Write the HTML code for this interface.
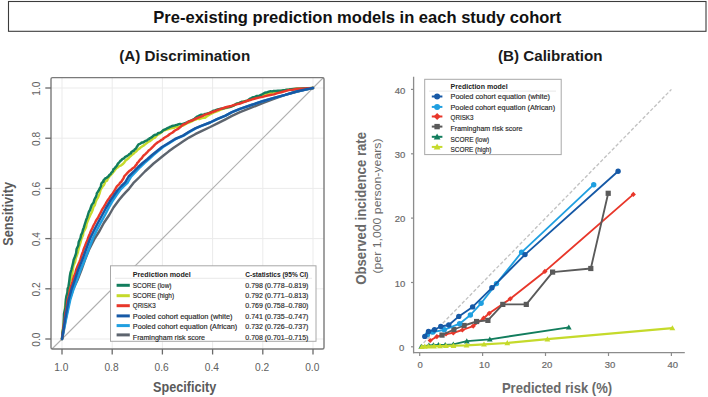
<!DOCTYPE html>
<html><head><meta charset="utf-8"><title>Pre-existing prediction models</title>
<style>html,body{margin:0;padding:0;background:#fff;width:708px;height:397px;overflow:hidden}svg{display:block}text{font-family:"Liberation Sans",sans-serif}.b{stroke:#2a2a2a;stroke-width:0.18px}</style>
</head><body>
<svg width="708" height="397" viewBox="0 0 708 397" font-family='"Liberation Sans", sans-serif'>
<rect width="708" height="397" fill="#fff"/>
<rect x="8.5" y="1.5" width="697.5" height="29.8" fill="none" stroke="#3c3c3c" stroke-width="1.1"/><text x="153.3" y="22.5" font-size="17.3" font-weight="bold" fill="#111" textLength="408" lengthAdjust="spacingAndGlyphs">Pre-existing prediction models in each study cohort</text><text x="119.2" y="61" font-size="14.3" font-weight="bold" fill="#1a1a1a" textLength="131" lengthAdjust="spacingAndGlyphs">(A) Discrimination</text><text x="498" y="61" font-size="14.3" font-weight="bold" fill="#1a1a1a" textLength="104.5" lengthAdjust="spacingAndGlyphs">(B) Calibration</text><text x="153" y="391.9" font-size="14.3" font-weight="bold" fill="#5a5a5a" textLength="63.3" lengthAdjust="spacingAndGlyphs">Specificity</text><text transform="translate(12.5,245.8) rotate(-90)" font-size="14.3" font-weight="bold" fill="#5a5a5a" textLength="63.8" lengthAdjust="spacingAndGlyphs">Sensitivity</text><text x="501.9" y="392.5" font-size="13.9" font-weight="bold" fill="#6a6a6a" textLength="110.2" lengthAdjust="spacingAndGlyphs">Predicted risk (%)</text><text transform="translate(366.1,284.7) rotate(-90)" font-size="14.2" font-weight="bold" fill="#6a6a6a" textLength="152.7" lengthAdjust="spacingAndGlyphs">Observed incidence rate</text><text transform="translate(380.8,273.6) rotate(-90)" font-size="10.4" fill="#6a6a6a" textLength="135.2" lengthAdjust="spacingAndGlyphs">(per 1,000 person-years)</text>
<line x1="62.0" y1="78" x2="62.0" y2="349" stroke="#ebebeb" stroke-width="1"/><line x1="51" y1="88.0" x2="324" y2="88.0" stroke="#ebebeb" stroke-width="1"/><line x1="112.2" y1="78" x2="112.2" y2="349" stroke="#ebebeb" stroke-width="1"/><line x1="51" y1="138.2" x2="324" y2="138.2" stroke="#ebebeb" stroke-width="1"/><line x1="162.4" y1="78" x2="162.4" y2="349" stroke="#ebebeb" stroke-width="1"/><line x1="51" y1="188.4" x2="324" y2="188.4" stroke="#ebebeb" stroke-width="1"/><line x1="212.6" y1="78" x2="212.6" y2="349" stroke="#ebebeb" stroke-width="1"/><line x1="51" y1="238.6" x2="324" y2="238.6" stroke="#ebebeb" stroke-width="1"/><line x1="262.8" y1="78" x2="262.8" y2="349" stroke="#ebebeb" stroke-width="1"/><line x1="51" y1="288.8" x2="324" y2="288.8" stroke="#ebebeb" stroke-width="1"/><line x1="313.0" y1="78" x2="313.0" y2="349" stroke="#ebebeb" stroke-width="1"/><line x1="51" y1="339.0" x2="324" y2="339.0" stroke="#ebebeb" stroke-width="1"/><line x1="52" y1="349" x2="323.5" y2="77.5" stroke="#b0b0b0" stroke-width="1.15"/><polyline points="62.0,339.0 65.5,320.0 69.5,300.0 73.2,289.0 77.5,280.0 81.4,270.0 84.9,260.0 88.9,250.0 95.0,238.0 99.5,231.0 103.8,223.0 109.2,215.0 113.5,207.5 119.0,200.0 122.2,196.1 125.6,192.4 129.0,188.8 133.3,183.2 139.1,177.5 144.9,171.5 149.3,167.5 153.6,163.5 158.6,159.5 163.5,155.5 168.5,151.6 174.0,147.6 180.0,143.6 182.9,141.6 189.0,137.6 195.2,134.2 202.0,130.8 210.2,127.0 218.0,123.1 225.5,119.3 232.0,115.9 240.0,112.2 251.3,107.7 262.6,103.1 273.9,98.9 285.2,94.9 296.5,91.7 307.8,89.0 313.0,88.0" fill="none" stroke="#5d646e" stroke-width="2.45" stroke-linejoin="round" stroke-linecap="round"/><polyline points="62.2,339.0 65.9,320.0 70.2,300.0 73.6,289.0 76.9,280.0 80.5,270.0 83.9,262.0 87.0,254.0 89.9,246.0 93.0,238.0 96.4,231.0 100.6,223.0 105.0,215.0 108.9,207.5 113.2,200.0 116.6,195.0 120.2,190.0 123.9,186.2 127.7,182.5 131.1,176.7 136.6,171.0 140.3,167.0 144.4,163.0 149.1,159.0 153.4,155.0 158.2,151.0 163.1,147.0 169.6,143.0 175.8,139.0 183.6,135.6 189.6,131.9 195.7,128.4 200.9,126.1 210.3,122.5 217.2,119.1 225.6,115.6 232.0,112.2 240.0,108.9 251.3,105.0 262.6,101.2 273.9,97.9 285.2,94.9 296.5,91.5 307.8,89.0 313.0,88.0" fill="none" stroke="#1f9fe0" stroke-width="2.45" stroke-linejoin="round" stroke-linecap="round"/><polyline points="62.0,339.0 62.4,332.7 63.2,326.4 64.0,320.0 64.9,312.9 65.0,307.0 66.3,300.0 66.7,296.1 68.1,292.6 68.3,289.0 69.3,286.0 69.8,282.7 70.3,280.0 70.7,280.0 70.8,279.6 71.0,279.0 71.7,275.6 72.4,273.1 72.7,270.0 73.5,265.5 75.1,262.0 75.8,258.0 77.0,255.0 78.0,251.8 78.8,248.0 79.7,245.0 80.7,241.8 81.7,238.0 83.1,234.9 83.3,232.4 84.7,230.0 86.0,227.3 86.5,224.5 87.3,222.0 88.3,219.6 89.2,217.4 90.3,215.0 91.5,212.7 92.6,210.1 93.4,207.0 94.8,205.2 95.6,202.0 96.5,200.0 98.2,197.1 99.6,193.4 100.5,190.0 102.2,187.1 103.9,184.9 105.1,182.2 105.7,180.8 107.1,180.7 107.6,179.2 108.5,177.8 110.2,175.5 111.6,174.2 112.6,172.9 114.4,170.7 115.2,169.6 116.6,168.0 118.1,167.1 119.2,166.1 121.2,165.4 122.5,164.3 124.2,162.6 125.3,160.8 127.0,159.5 128.2,158.6 129.8,156.8 132.0,154.9 133.8,153.5 134.7,152.5 136.4,151.3 138.0,149.5 139.7,148.4 140.6,147.5 142.0,146.5 144.2,145.1 146.1,143.6 148.1,142.0 149.8,141.2 150.6,140.6 152.0,139.5 153.1,138.3 155.1,137.5 156.0,136.5 157.5,134.8 158.9,134.2 160.5,133.0 161.6,132.1 163.8,130.6 165.2,130.0 167.6,129.3 169.9,128.5 172.0,128.0 173.9,127.9 174.9,126.9 177.0,127.0 179.1,127.0 180.7,126.0 182.9,125.6 185.4,124.2 187.5,123.0 190.0,122.0 191.9,121.3 193.8,120.2 196.0,119.5 197.8,118.7 199.1,119.1 200.5,118.5 201.8,118.0 203.8,117.7 205.0,117.7 207.0,116.2 209.9,114.5 212.0,113.5 214.8,112.0 218.3,110.8 221.0,109.5 224.7,108.2 227.5,107.7 231.0,106.5 234.4,105.3 236.7,103.8 240.0,103.0 243.8,101.4 247.8,100.7 251.3,99.0 254.8,97.4 259.1,96.5 262.6,95.0 266.7,94.0 269.8,93.1 273.9,92.5 277.9,91.5 281.1,90.9 285.0,90.2 288.8,89.7 292.7,89.3 296.5,88.8 302.0,88.5 307.5,88.3 313.0,88.0" fill="none" stroke="#c5da2b" stroke-width="2.45" stroke-linejoin="round" stroke-linecap="round"/><polyline points="62.0,339.0 62.5,332.6 63.7,326.0 63.8,320.0 64.0,313.8 65.5,307.2 65.8,300.0 66.3,296.8 67.4,292.4 67.6,289.0 68.5,286.3 69.0,283.0 69.4,280.0 69.8,276.5 70.4,272.9 71.3,270.0 72.2,266.5 73.1,262.9 73.6,260.0 75.0,256.5 76.1,253.1 76.6,249.0 78.3,245.4 78.7,241.9 80.5,238.0 81.0,235.1 82.3,232.7 82.9,230.0 83.7,227.8 84.7,224.5 85.5,222.0 86.1,220.0 87.1,217.6 87.9,215.0 88.8,212.0 90.0,210.0 91.0,207.0 91.7,205.0 93.6,202.6 94.2,200.0 95.3,197.8 95.9,197.0 96.5,195.0 96.9,193.1 97.9,191.7 99.0,190.0 99.6,188.6 100.6,186.8 101.0,186.0 101.1,184.4 101.7,183.0 102.6,182.2 103.6,181.7 103.3,180.5 104.2,179.6 105.3,178.4 106.6,177.8 108.0,176.7 109.0,175.6 109.6,174.7 110.8,173.9 111.2,172.9 112.5,171.7 113.0,170.8 113.3,169.4 114.3,168.8 115.2,167.6 116.2,166.4 117.0,165.7 117.4,164.5 118.3,163.2 119.3,162.3 120.3,160.9 121.2,160.4 122.3,159.2 123.3,158.7 124.3,158.1 124.9,157.1 126.3,156.4 127.3,155.9 128.9,154.6 129.5,153.9 130.9,153.3 131.3,152.1 132.6,151.3 132.9,151.0 134.1,150.5 134.6,149.5 135.7,148.7 136.4,147.7 137.0,146.7 137.6,145.8 138.5,144.4 140.0,143.8 141.3,142.9 141.6,142.5 143.0,142.5 144.0,141.7 143.9,142.0 145.0,141.2 145.6,140.9 147.2,140.3 148.0,139.4 149.1,139.1 149.6,138.2 150.0,138.3 151.9,137.1 153.5,135.6 155.0,134.8 156.9,134.5 157.9,133.2 160.0,132.6 161.7,131.9 163.1,130.2 165.0,129.5 166.4,128.7 168.6,127.7 170.0,126.9 171.5,126.3 173.2,125.8 175.0,125.4 175.6,125.1 177.5,124.7 178.0,124.5 179.9,123.9 181.5,124.3 182.9,123.8 184.4,123.3 185.6,122.9 187.0,122.3 189.0,121.3 189.7,121.2 191.7,120.3 193.5,119.4 194.5,118.7 196.0,117.5 197.0,116.6 198.2,116.2 199.8,115.4 201.3,114.7 203.5,114.9 205.0,114.0 206.6,113.7 208.5,113.3 210.4,112.4 212.0,111.5 213.2,110.7 215.0,110.5 217.0,109.7 218.7,109.1 221.0,108.6 222.5,108.5 224.0,108.4 226.0,107.5 227.8,107.2 229.6,107.0 231.5,106.3 233.3,105.6 234.5,105.0 236.0,104.0 237.7,103.4 238.9,103.5 240.0,102.5 241.6,101.8 243.1,101.9 245.0,101.3 247.3,100.7 249.6,98.9 251.3,98.1 252.9,97.2 254.8,96.9 257.0,96.0 259.2,95.8 260.5,95.1 262.6,94.1 263.5,93.5 265.1,92.6 266.0,92.5 267.1,92.4 268.8,91.6 270.5,91.3 272.4,91.4 273.7,90.9 276.0,91.0 277.9,90.8 279.6,90.8 281.8,90.5 284.0,90.1 285.3,90.0 287.0,89.7 289.0,89.5 291.1,89.2 293.1,89.0 296.4,88.8 299.7,88.6 303.0,88.4 306.3,88.3 309.7,88.1 313.0,88.0" fill="none" stroke="#127d5d" stroke-width="2.45" stroke-linejoin="round" stroke-linecap="round"/><polyline points="62.0,339.0 62.9,332.4 63.6,326.4 64.6,320.0 65.4,313.6 66.8,306.4 67.6,300.0 68.7,296.3 69.5,292.8 70.2,289.0 71.0,286.1 72.1,283.2 72.9,280.0 73.8,276.8 75.3,273.4 76.0,270.0 77.2,267.1 78.3,264.6 79.4,262.0 80.4,259.4 81.2,256.5 82.0,254.0 83.1,251.4 83.8,248.9 85.0,246.0 86.1,243.1 87.3,240.5 88.1,238.0 88.9,235.8 90.0,233.4 90.9,231.0 92.3,228.3 93.5,225.5 94.9,223.0 96.1,220.5 98.0,217.7 99.3,215.0 100.8,212.4 101.9,209.9 103.5,207.5 105.2,204.7 106.4,202.3 107.9,200.0 109.2,198.2 110.2,196.6 111.5,195.0 112.7,193.5 113.7,191.9 114.9,190.0 115.8,188.2 116.9,186.4 118.3,185.0 119.4,184.1 120.0,182.8 121.1,182.0 122.2,180.3 123.5,178.4 124.3,176.3 126.2,174.2 127.9,172.4 129.7,170.7 131.4,169.6 132.8,168.2 134.6,167.1 135.6,165.5 136.5,164.7 137.1,163.2 138.5,161.8 139.4,160.6 140.5,159.2 141.7,158.2 142.9,156.4 144.0,155.2 145.6,153.9 146.8,152.7 148.1,151.2 149.1,150.2 150.8,148.9 152.0,147.7 153.5,146.2 154.9,144.7 156.6,143.2 157.8,142.2 159.6,141.2 161.0,140.2 162.4,139.5 164.0,138.0 165.2,137.3 167.8,135.8 169.9,134.0 172.6,132.5 174.9,130.5 177.6,129.2 180.1,127.2 181.1,126.5 182.4,125.2 183.3,124.5 185.0,123.8 186.5,123.1 187.7,122.2 190.3,121.0 192.8,120.3 195.0,119.0 197.8,117.9 200.4,116.9 202.8,115.9 205.0,114.7 207.3,113.8 210.0,113.0 212.4,112.0 215.4,111.0 217.9,109.9 220.2,109.2 222.5,108.3 225.0,107.5 227.8,106.7 230.1,106.3 233.0,105.3 235.5,104.6 237.6,104.1 240.0,103.5 243.8,102.1 247.2,100.8 251.3,99.7 255.2,98.5 258.8,97.6 262.6,96.9 266.2,95.9 270.1,95.0 273.9,94.4 277.4,93.1 281.2,92.2 285.2,91.1 288.7,90.1 292.7,89.7 296.5,89.0 299.3,88.8 302.2,88.6 305.0,88.4 307.7,88.3 310.3,88.1 313.0,88.0" fill="none" stroke="#e8372a" stroke-width="2.45" stroke-linejoin="round" stroke-linecap="round"/><polyline points="62.0,339.0 65.0,320.0 68.6,300.0 71.6,289.0 74.8,280.0 78.1,270.0 81.4,262.0 84.4,254.0 87.3,246.0 90.3,238.0 93.7,231.0 97.8,223.0 102.2,215.0 106.2,207.5 110.7,200.0 114.2,195.0 117.7,190.0 121.4,186.0 125.2,182.3 128.6,176.5 134.4,170.9 138.2,167.0 142.6,163.0 147.5,159.0 152.0,155.0 157.0,151.0 162.0,147.0 168.6,143.0 175.0,139.0 182.9,135.6 189.0,131.8 195.2,128.4 200.5,126.1 210.0,122.5 217.0,119.1 225.5,115.6 232.0,112.2 240.0,108.9 251.3,105.0 262.6,101.2 273.9,97.9 285.2,94.9 296.5,91.5 307.8,89.0 313.0,88.0" fill="none" stroke="#1659a6" stroke-width="2.45" stroke-linejoin="round" stroke-linecap="round"/><rect x="51" y="77.6" width="273" height="271.4" rx="1.5" fill="none" stroke="#7a7a7a" stroke-width="1.4"/><line x1="62.0" y1="349" x2="62.0" y2="354.5" stroke="#6a6a6a" stroke-width="1.3"/><line x1="45.3" y1="88.0" x2="51" y2="88.0" stroke="#6a6a6a" stroke-width="1.3"/><text x="61.3" y="370.9" font-size="10.2" fill="#606060" text-anchor="middle">1.0</text><text transform="translate(39.7,88.6) rotate(-90)" x="0" y="0" font-size="10.2" fill="#606060" text-anchor="middle">1.0</text><line x1="112.2" y1="349" x2="112.2" y2="354.5" stroke="#6a6a6a" stroke-width="1.3"/><line x1="45.3" y1="138.2" x2="51" y2="138.2" stroke="#6a6a6a" stroke-width="1.3"/><text x="111.5" y="370.9" font-size="10.2" fill="#606060" text-anchor="middle">0.8</text><text transform="translate(39.7,138.8) rotate(-90)" x="0" y="0" font-size="10.2" fill="#606060" text-anchor="middle">0.8</text><line x1="162.4" y1="349" x2="162.4" y2="354.5" stroke="#6a6a6a" stroke-width="1.3"/><line x1="45.3" y1="188.4" x2="51" y2="188.4" stroke="#6a6a6a" stroke-width="1.3"/><text x="161.7" y="370.9" font-size="10.2" fill="#606060" text-anchor="middle">0.6</text><text transform="translate(39.7,189.0) rotate(-90)" x="0" y="0" font-size="10.2" fill="#606060" text-anchor="middle">0.6</text><line x1="212.6" y1="349" x2="212.6" y2="354.5" stroke="#6a6a6a" stroke-width="1.3"/><line x1="45.3" y1="238.6" x2="51" y2="238.6" stroke="#6a6a6a" stroke-width="1.3"/><text x="211.9" y="370.9" font-size="10.2" fill="#606060" text-anchor="middle">0.4</text><text transform="translate(39.7,239.2) rotate(-90)" x="0" y="0" font-size="10.2" fill="#606060" text-anchor="middle">0.4</text><line x1="262.8" y1="349" x2="262.8" y2="354.5" stroke="#6a6a6a" stroke-width="1.3"/><line x1="45.3" y1="288.8" x2="51" y2="288.8" stroke="#6a6a6a" stroke-width="1.3"/><text x="262.1" y="370.9" font-size="10.2" fill="#606060" text-anchor="middle">0.2</text><text transform="translate(39.7,289.4) rotate(-90)" x="0" y="0" font-size="10.2" fill="#606060" text-anchor="middle">0.2</text><line x1="313.0" y1="349" x2="313.0" y2="354.5" stroke="#6a6a6a" stroke-width="1.3"/><line x1="45.3" y1="339.0" x2="51" y2="339.0" stroke="#6a6a6a" stroke-width="1.3"/><text x="312.3" y="370.9" font-size="10.2" fill="#606060" text-anchor="middle">0.0</text><text transform="translate(39.7,339.6) rotate(-90)" x="0" y="0" font-size="10.2" fill="#606060" text-anchor="middle">0.0</text>
<rect x="110.5" y="265.8" width="205.5" height="75.5" fill="#ffffff" stroke="#a8a8a8" stroke-width="1"/><line x1="115" y1="278.3" x2="312" y2="278.3" stroke="#e2e2e2" stroke-width="0.8"/><text x="132.8" y="276.8" font-size="7.6" font-weight="bold" fill="#222" textLength="58" lengthAdjust="spacingAndGlyphs">Prediction model</text><text x="245.3" y="276.8" font-size="7.6" font-weight="bold" fill="#222" textLength="63" lengthAdjust="spacingAndGlyphs">C-statistics (95% CI)</text><line x1="116.6" y1="285.3" x2="129.8" y2="285.3" stroke="#127d5d" stroke-width="3"/><text x="132.8" y="287.9" font-size="8" fill="#2a2a2a" textLength="38.7" lengthAdjust="spacingAndGlyphs" class="b">SCORE (low)</text><text x="245.3" y="287.9" font-size="8" fill="#2a2a2a" textLength="63.1" lengthAdjust="spacingAndGlyphs" class="b">0.798 (0.778–0.819)</text><line x1="116.6" y1="295.7" x2="129.8" y2="295.7" stroke="#c5da2b" stroke-width="3"/><text x="132.8" y="298.0" font-size="8" fill="#2a2a2a" textLength="41.3" lengthAdjust="spacingAndGlyphs" class="b">SCORE (high)</text><text x="245.3" y="298.0" font-size="8" fill="#2a2a2a" textLength="63.1" lengthAdjust="spacingAndGlyphs" class="b">0.792 (0.771–0.813)</text><line x1="116.6" y1="305.7" x2="129.8" y2="305.7" stroke="#e8372a" stroke-width="3"/><text x="132.8" y="308.0" font-size="8" fill="#2a2a2a" textLength="22.8" lengthAdjust="spacingAndGlyphs" class="b">QRISK3</text><text x="245.3" y="308.0" font-size="8" fill="#2a2a2a" textLength="63.1" lengthAdjust="spacingAndGlyphs" class="b">0.769 (0.758–0.780)</text><line x1="116.6" y1="315.9" x2="129.8" y2="315.9" stroke="#1659a6" stroke-width="3"/><text x="132.8" y="318.5" font-size="8" fill="#2a2a2a" textLength="99.7" lengthAdjust="spacingAndGlyphs" class="b">Pooled cohort equation (white)</text><text x="245.3" y="318.5" font-size="8" fill="#2a2a2a" textLength="63.1" lengthAdjust="spacingAndGlyphs" class="b">0.741 (0.735–0.747)</text><line x1="116.6" y1="325.6" x2="129.8" y2="325.6" stroke="#1f9fe0" stroke-width="3"/><text x="132.8" y="328.6" font-size="8" fill="#2a2a2a" textLength="104.4" lengthAdjust="spacingAndGlyphs" class="b">Pooled cohort equation (African)</text><text x="245.3" y="328.6" font-size="8" fill="#2a2a2a" textLength="63.1" lengthAdjust="spacingAndGlyphs" class="b">0.732 (0.726–0.737)</text><line x1="116.6" y1="334.9" x2="129.8" y2="334.9" stroke="#5d646e" stroke-width="3"/><text x="132.8" y="340.3" font-size="8" fill="#2a2a2a" textLength="72.2" lengthAdjust="spacingAndGlyphs" class="b">Framingham risk score</text><text x="245.3" y="340.3" font-size="8" fill="#2a2a2a" textLength="63.1" lengthAdjust="spacingAndGlyphs" class="b">0.708 (0.701–0.715)</text>
<line x1="419.7" y1="346.8" x2="671.4" y2="89.4" stroke="#c2c2c2" stroke-width="1.35" stroke-dasharray="3.5,2"/><polyline points="421.3,346.6 428.9,345.3 433.4,345.1 438.4,344.9 445.2,345.0 453.3,344.4 466.8,341.2 489.8,339.3 568.8,327.3" fill="none" stroke="#127d5d" stroke-width="1.85" stroke-linejoin="round"/><path d="M421.3,343.7 L424.2,348.8 L418.4,348.8Z" fill="#127d5d"/><path d="M428.9,342.4 L431.8,347.5 L426.0,347.5Z" fill="#127d5d"/><path d="M433.4,342.2 L436.3,347.3 L430.5,347.3Z" fill="#127d5d"/><path d="M438.4,342.0 L441.3,347.1 L435.5,347.1Z" fill="#127d5d"/><path d="M445.2,342.1 L448.1,347.2 L442.3,347.2Z" fill="#127d5d"/><path d="M453.3,341.5 L456.2,346.6 L450.4,346.6Z" fill="#127d5d"/><path d="M466.8,338.3 L469.7,343.4 L463.9,343.4Z" fill="#127d5d"/><path d="M489.8,336.4 L492.7,341.5 L486.9,341.5Z" fill="#127d5d"/><path d="M568.8,324.4 L571.7,329.5 L565.9,329.5Z" fill="#127d5d"/><polyline points="421.8,346.8 424.8,346.5 428.6,346.3 434.0,346.2 440.0,346.0 446.0,345.9 453.5,345.7 466.5,345.4 484.0,344.3 507.3,343.0 547.4,339.2 672.4,328.1" fill="none" stroke="#c5da2b" stroke-width="2.2" stroke-linejoin="round"/><path d="M421.8,343.9 L424.7,349.0 L418.9,349.0Z" fill="#c5da2b"/><path d="M424.8,343.6 L427.7,348.7 L421.9,348.7Z" fill="#c5da2b"/><path d="M428.6,343.4 L431.5,348.5 L425.7,348.5Z" fill="#c5da2b"/><path d="M434.0,343.3 L436.9,348.4 L431.1,348.4Z" fill="#c5da2b"/><path d="M440.0,343.1 L442.9,348.2 L437.1,348.2Z" fill="#c5da2b"/><path d="M446.0,343.0 L448.9,348.1 L443.1,348.1Z" fill="#c5da2b"/><path d="M453.5,342.8 L456.4,347.9 L450.6,347.9Z" fill="#c5da2b"/><path d="M466.5,342.5 L469.4,347.6 L463.6,347.6Z" fill="#c5da2b"/><path d="M484.0,341.4 L486.9,346.5 L481.1,346.5Z" fill="#c5da2b"/><path d="M507.3,340.1 L510.2,345.2 L504.4,345.2Z" fill="#c5da2b"/><path d="M547.4,336.3 L550.3,341.4 L544.5,341.4Z" fill="#c5da2b"/><path d="M672.4,325.2 L675.3,330.3 L669.5,330.3Z" fill="#c5da2b"/><polyline points="430.2,340.5 436.9,336.6 446.0,334.0 453.3,332.9 462.4,330.0 473.2,326.1 483.6,318.2 489.2,313.3 510.3,298.8 544.9,271.4 633.3,194.4" fill="none" stroke="#e8372a" stroke-width="1.85" stroke-linejoin="round"/><path d="M430.2,337.9 L432.8,340.5 L430.2,343.1 L427.6,340.5Z" fill="#e8372a"/><path d="M436.9,334.0 L439.5,336.6 L436.9,339.2 L434.3,336.6Z" fill="#e8372a"/><path d="M446.0,331.4 L448.6,334.0 L446.0,336.6 L443.4,334.0Z" fill="#e8372a"/><path d="M453.3,330.3 L455.9,332.9 L453.3,335.5 L450.7,332.9Z" fill="#e8372a"/><path d="M462.4,327.4 L465.0,330.0 L462.4,332.6 L459.8,330.0Z" fill="#e8372a"/><path d="M473.2,323.5 L475.8,326.1 L473.2,328.7 L470.6,326.1Z" fill="#e8372a"/><path d="M483.6,315.6 L486.2,318.2 L483.6,320.8 L481.0,318.2Z" fill="#e8372a"/><path d="M489.2,310.7 L491.8,313.3 L489.2,315.9 L486.6,313.3Z" fill="#e8372a"/><path d="M510.3,296.2 L512.9,298.8 L510.3,301.4 L507.7,298.8Z" fill="#e8372a"/><path d="M544.9,268.8 L547.5,271.4 L544.9,274.0 L542.3,271.4Z" fill="#e8372a"/><path d="M633.3,191.8 L635.9,194.4 L633.3,197.0 L630.7,194.4Z" fill="#e8372a"/><polyline points="442.0,335.1 453.9,329.5 464.1,325.5 476.6,321.5 487.9,320.4 502.8,304.4 526.3,304.4 552.6,272.1 590.8,268.5 608.2,193.3" fill="none" stroke="#5a5a5a" stroke-width="1.85" stroke-linejoin="round"/><rect x="439.4" y="332.5" width="5.2" height="5.2" fill="#5a5a5a"/><rect x="451.3" y="326.9" width="5.2" height="5.2" fill="#5a5a5a"/><rect x="461.5" y="322.9" width="5.2" height="5.2" fill="#5a5a5a"/><rect x="474.0" y="318.9" width="5.2" height="5.2" fill="#5a5a5a"/><rect x="485.3" y="317.8" width="5.2" height="5.2" fill="#5a5a5a"/><rect x="500.2" y="301.8" width="5.2" height="5.2" fill="#5a5a5a"/><rect x="523.7" y="301.8" width="5.2" height="5.2" fill="#5a5a5a"/><rect x="550.0" y="269.5" width="5.2" height="5.2" fill="#5a5a5a"/><rect x="588.2" y="265.9" width="5.2" height="5.2" fill="#5a5a5a"/><rect x="605.6" y="190.7" width="5.2" height="5.2" fill="#5a5a5a"/><polyline points="427.5,334.5 433.0,332.0 444.3,329.8 459.6,323.7 470.4,315.0 481.1,303.3 496.5,283.6 521.6,252.3 593.7,184.7" fill="none" stroke="#1f9fe0" stroke-width="1.85" stroke-linejoin="round"/><circle cx="427.5" cy="334.5" r="2.7" fill="#1f9fe0"/><circle cx="433.0" cy="332.0" r="2.7" fill="#1f9fe0"/><circle cx="444.3" cy="329.8" r="2.7" fill="#1f9fe0"/><circle cx="459.6" cy="323.7" r="2.7" fill="#1f9fe0"/><circle cx="470.4" cy="315.0" r="2.7" fill="#1f9fe0"/><circle cx="481.1" cy="303.3" r="2.7" fill="#1f9fe0"/><circle cx="496.5" cy="283.6" r="2.7" fill="#1f9fe0"/><circle cx="521.6" cy="252.3" r="2.7" fill="#1f9fe0"/><circle cx="593.7" cy="184.7" r="2.7" fill="#1f9fe0"/><polyline points="424.8,336.4 428.5,331.5 434.5,329.7 440.8,326.5 448.8,325.0 458.8,316.4 472.6,306.9 491.9,287.8 525.0,254.6 618.1,171.3" fill="none" stroke="#1659a6" stroke-width="1.85" stroke-linejoin="round"/><circle cx="424.8" cy="336.4" r="2.7" fill="#1659a6"/><circle cx="428.5" cy="331.5" r="2.7" fill="#1659a6"/><circle cx="434.5" cy="329.7" r="2.7" fill="#1659a6"/><circle cx="440.8" cy="326.5" r="2.7" fill="#1659a6"/><circle cx="448.8" cy="325.0" r="2.7" fill="#1659a6"/><circle cx="458.8" cy="316.4" r="2.7" fill="#1659a6"/><circle cx="472.6" cy="306.9" r="2.7" fill="#1659a6"/><circle cx="491.9" cy="287.8" r="2.7" fill="#1659a6"/><circle cx="525.0" cy="254.6" r="2.7" fill="#1659a6"/><circle cx="618.1" cy="171.3" r="2.7" fill="#1659a6"/><line x1="413.6" y1="76.7" x2="413.6" y2="353.2" stroke="#8c8c8c" stroke-width="1.3"/><line x1="413" y1="352.6" x2="684.8" y2="352.6" stroke="#8c8c8c" stroke-width="1.3"/><line x1="419.7" y1="352.6" x2="419.7" y2="356" stroke="#8c8c8c" stroke-width="1.2"/><line x1="411" y1="346.8" x2="413.6" y2="346.8" stroke="#8c8c8c" stroke-width="1.2"/><text x="420.1" y="367.7" font-size="9.5" fill="#6a6a6a" stroke="#6a6a6a" stroke-width="0.2" text-anchor="middle">0</text><text x="404.3" y="351.1" font-size="9.5" fill="#6a6a6a" stroke="#6a6a6a" stroke-width="0.2" text-anchor="end">0</text><line x1="482.6" y1="352.6" x2="482.6" y2="356" stroke="#8c8c8c" stroke-width="1.2"/><line x1="411" y1="282.5" x2="413.6" y2="282.5" stroke="#8c8c8c" stroke-width="1.2"/><text x="484.4" y="367.7" font-size="9.5" fill="#6a6a6a" stroke="#6a6a6a" stroke-width="0.2" text-anchor="middle">10</text><text x="405.3" y="286.8" font-size="9.5" fill="#6a6a6a" stroke="#6a6a6a" stroke-width="0.2" text-anchor="end">10</text><line x1="545.5" y1="352.6" x2="545.5" y2="356" stroke="#8c8c8c" stroke-width="1.2"/><line x1="411" y1="218.1" x2="413.6" y2="218.1" stroke="#8c8c8c" stroke-width="1.2"/><text x="547.1" y="367.7" font-size="9.5" fill="#6a6a6a" stroke="#6a6a6a" stroke-width="0.2" text-anchor="middle">20</text><text x="405.3" y="222.4" font-size="9.5" fill="#6a6a6a" stroke="#6a6a6a" stroke-width="0.2" text-anchor="end">20</text><line x1="608.5" y1="352.6" x2="608.5" y2="356" stroke="#8c8c8c" stroke-width="1.2"/><line x1="411" y1="153.8" x2="413.6" y2="153.8" stroke="#8c8c8c" stroke-width="1.2"/><text x="610.1" y="367.7" font-size="9.5" fill="#6a6a6a" stroke="#6a6a6a" stroke-width="0.2" text-anchor="middle">30</text><text x="405.3" y="158.1" font-size="9.5" fill="#6a6a6a" stroke="#6a6a6a" stroke-width="0.2" text-anchor="end">30</text><line x1="671.4" y1="352.6" x2="671.4" y2="356" stroke="#8c8c8c" stroke-width="1.2"/><line x1="411" y1="89.4" x2="413.6" y2="89.4" stroke="#8c8c8c" stroke-width="1.2"/><text x="672.7" y="367.7" font-size="9.5" fill="#6a6a6a" stroke="#6a6a6a" stroke-width="0.2" text-anchor="middle">40</text><text x="405.3" y="93.7" font-size="9.5" fill="#6a6a6a" stroke="#6a6a6a" stroke-width="0.2" text-anchor="end">40</text>
<rect x="424.7" y="79.3" width="136.5" height="75.3" fill="#fff" stroke="#a8a8a8" stroke-width="1"/><line x1="429" y1="91.1" x2="556" y2="91.1" stroke="#e2e2e2" stroke-width="0.8"/><text x="450.6" y="88.9" font-size="7.6" font-weight="bold" fill="#222" textLength="57" lengthAdjust="spacingAndGlyphs">Prediction model</text><line x1="431.8" y1="96.5" x2="442.4" y2="96.5" stroke="#1659a6" stroke-width="2"/><circle cx="437.1" cy="96.5" r="3.0" fill="#1659a6"/><text x="450.5" y="99.4" font-size="8" fill="#2a2a2a" textLength="99.5" lengthAdjust="spacingAndGlyphs" class="b">Pooled cohort equation (white)</text><line x1="431.8" y1="106.9" x2="442.4" y2="106.9" stroke="#1f9fe0" stroke-width="2"/><circle cx="437.1" cy="106.9" r="3.0" fill="#1f9fe0"/><text x="450.5" y="110.3" font-size="8" fill="#2a2a2a" textLength="104.6" lengthAdjust="spacingAndGlyphs" class="b">Pooled cohort equation (African)</text><line x1="431.8" y1="116.5" x2="442.4" y2="116.5" stroke="#e8372a" stroke-width="2"/><path d="M437.1,113.0 L440.6,116.5 L437.1,120.0 L433.6,116.5Z" fill="#e8372a"/><text x="450.5" y="119.9" font-size="8" fill="#2a2a2a" textLength="23" lengthAdjust="spacingAndGlyphs" class="b">QRISK3</text><line x1="431.8" y1="126.6" x2="442.4" y2="126.6" stroke="#5a5a5a" stroke-width="2"/><rect x="434.4" y="123.9" width="5.4" height="5.4" fill="#5a5a5a"/><text x="450.5" y="130.8" font-size="8" fill="#2a2a2a" textLength="72" lengthAdjust="spacingAndGlyphs" class="b">Framingham risk score</text><line x1="431.8" y1="136.8" x2="442.4" y2="136.8" stroke="#127d5d" stroke-width="2"/><path d="M437.1,133.4 L440.5,139.4 L433.7,139.4Z" fill="#127d5d"/><text x="450.5" y="141.6" font-size="8" fill="#2a2a2a" textLength="38.7" lengthAdjust="spacingAndGlyphs" class="b">SCORE (low)</text><line x1="431.8" y1="146.9" x2="442.4" y2="146.9" stroke="#c5da2b" stroke-width="2"/><path d="M437.1,143.5 L440.5,149.5 L433.7,149.5Z" fill="#c5da2b"/><text x="450.5" y="151.7" font-size="8" fill="#2a2a2a" textLength="41" lengthAdjust="spacingAndGlyphs" class="b">SCORE (high)</text>
</svg>
</body></html>
